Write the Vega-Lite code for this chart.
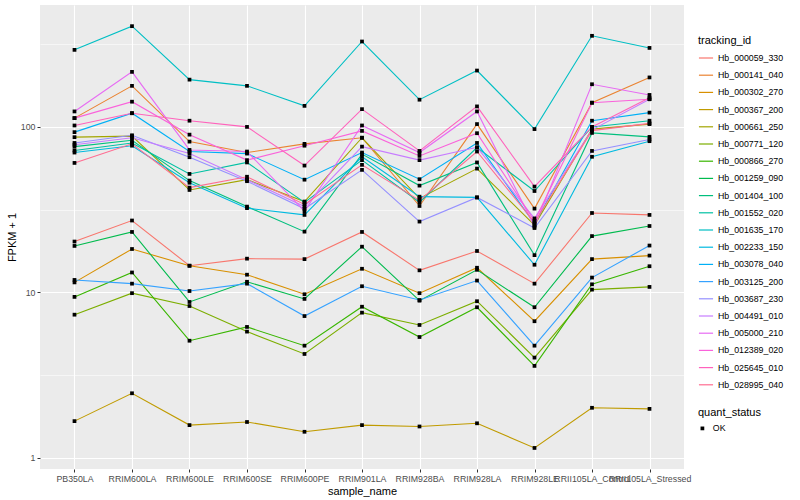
{
  "$schema": "https://vega.github.io/schema/vega-lite/v6.json",
  "autosize": {"type": "none"},
  "padding": {"left": 40, "top": 5, "right": 116, "bottom": 31},
  "width": 644,
  "height": 464,
  "config": {
    "font": "Liberation Sans",
    "view": {"fill": "#EBEBEB", "stroke": null},
    "axis": {"labelFont": "Liberation Sans", "titleFont": "Liberation Sans", "labelColor": "#4D4D4D", "labelFontSize": 8.8, "titleFontSize": 11, "titleFontWeight": "normal", "titleColor": "#000000", "tickColor": "#333333", "tickSize": 3, "tickWidth": 1, "domain": false, "gridColor": "#FFFFFF", "gridWidth": 1.1, "labelPadding": 2},
    "legend": {"titleFont": "Liberation Sans", "labelFont": "Liberation Sans", "titleFontSize": 11, "titleFontWeight": "normal", "titleColor": "#000000", "labelFontSize": 8.8, "labelColor": "#000000"}
  },
  "data": {"values": [
    {"tracking_id":"Hb_000059_330","sample_name":"PB350LA","fpkm":20.3,"quant_status":"OK"},
    {"tracking_id":"Hb_000059_330","sample_name":"RRIM600LA","fpkm":27.2,"quant_status":"OK"},
    {"tracking_id":"Hb_000059_330","sample_name":"RRIM600LE","fpkm":14.5,"quant_status":"OK"},
    {"tracking_id":"Hb_000059_330","sample_name":"RRIM600SE","fpkm":16.0,"quant_status":"OK"},
    {"tracking_id":"Hb_000059_330","sample_name":"RRIM600PE","fpkm":15.9,"quant_status":"OK"},
    {"tracking_id":"Hb_000059_330","sample_name":"RRIM901LA","fpkm":23.2,"quant_status":"OK"},
    {"tracking_id":"Hb_000059_330","sample_name":"RRIM928BA","fpkm":13.6,"quant_status":"OK"},
    {"tracking_id":"Hb_000059_330","sample_name":"RRIM928LA","fpkm":17.8,"quant_status":"OK"},
    {"tracking_id":"Hb_000059_330","sample_name":"RRIM928LE","fpkm":11.3,"quant_status":"OK"},
    {"tracking_id":"Hb_000059_330","sample_name":"RRII105LA_Control","fpkm":30.2,"quant_status":"OK"},
    {"tracking_id":"Hb_000059_330","sample_name":"RRII105LA_Stressed","fpkm":29.4,"quant_status":"OK"},

    {"tracking_id":"Hb_000141_040","sample_name":"PB350LA","fpkm":113,"quant_status":"OK"},
    {"tracking_id":"Hb_000141_040","sample_name":"RRIM600LA","fpkm":177,"quant_status":"OK"},
    {"tracking_id":"Hb_000141_040","sample_name":"RRIM600LE","fpkm":81.5,"quant_status":"OK"},
    {"tracking_id":"Hb_000141_040","sample_name":"RRIM600SE","fpkm":70,"quant_status":"OK"},
    {"tracking_id":"Hb_000141_040","sample_name":"RRIM600PE","fpkm":79,"quant_status":"OK"},
    {"tracking_id":"Hb_000141_040","sample_name":"RRIM901LA","fpkm":86,"quant_status":"OK"},
    {"tracking_id":"Hb_000141_040","sample_name":"RRIM928BA","fpkm":33.3,"quant_status":"OK"},
    {"tracking_id":"Hb_000141_040","sample_name":"RRIM928LA","fpkm":104,"quant_status":"OK"},
    {"tracking_id":"Hb_000141_040","sample_name":"RRIM928LE","fpkm":32.1,"quant_status":"OK"},
    {"tracking_id":"Hb_000141_040","sample_name":"RRII105LA_Control","fpkm":140,"quant_status":"OK"},
    {"tracking_id":"Hb_000141_040","sample_name":"RRII105LA_Stressed","fpkm":199,"quant_status":"OK"},

    {"tracking_id":"Hb_000302_270","sample_name":"PB350LA","fpkm":11.5,"quant_status":"OK"},
    {"tracking_id":"Hb_000302_270","sample_name":"RRIM600LA","fpkm":18.3,"quant_status":"OK"},
    {"tracking_id":"Hb_000302_270","sample_name":"RRIM600LE","fpkm":14.5,"quant_status":"OK"},
    {"tracking_id":"Hb_000302_270","sample_name":"RRIM600SE","fpkm":12.8,"quant_status":"OK"},
    {"tracking_id":"Hb_000302_270","sample_name":"RRIM600PE","fpkm":9.75,"quant_status":"OK"},
    {"tracking_id":"Hb_000302_270","sample_name":"RRIM901LA","fpkm":13.9,"quant_status":"OK"},
    {"tracking_id":"Hb_000302_270","sample_name":"RRIM928BA","fpkm":9.9,"quant_status":"OK"},
    {"tracking_id":"Hb_000302_270","sample_name":"RRIM928LA","fpkm":14.1,"quant_status":"OK"},
    {"tracking_id":"Hb_000302_270","sample_name":"RRIM928LE","fpkm":6.7,"quant_status":"OK"},
    {"tracking_id":"Hb_000302_270","sample_name":"RRII105LA_Control","fpkm":15.9,"quant_status":"OK"},
    {"tracking_id":"Hb_000302_270","sample_name":"RRII105LA_Stressed","fpkm":16.7,"quant_status":"OK"},

    {"tracking_id":"Hb_000367_200","sample_name":"PB350LA","fpkm":1.67,"quant_status":"OK"},
    {"tracking_id":"Hb_000367_200","sample_name":"RRIM600LA","fpkm":2.46,"quant_status":"OK"},
    {"tracking_id":"Hb_000367_200","sample_name":"RRIM600LE","fpkm":1.58,"quant_status":"OK"},
    {"tracking_id":"Hb_000367_200","sample_name":"RRIM600SE","fpkm":1.65,"quant_status":"OK"},
    {"tracking_id":"Hb_000367_200","sample_name":"RRIM600PE","fpkm":1.44,"quant_status":"OK"},
    {"tracking_id":"Hb_000367_200","sample_name":"RRIM901LA","fpkm":1.58,"quant_status":"OK"},
    {"tracking_id":"Hb_000367_200","sample_name":"RRIM928BA","fpkm":1.55,"quant_status":"OK"},
    {"tracking_id":"Hb_000367_200","sample_name":"RRIM928LA","fpkm":1.62,"quant_status":"OK"},
    {"tracking_id":"Hb_000367_200","sample_name":"RRIM928LE","fpkm":1.15,"quant_status":"OK"},
    {"tracking_id":"Hb_000367_200","sample_name":"RRII105LA_Control","fpkm":2.01,"quant_status":"OK"},
    {"tracking_id":"Hb_000367_200","sample_name":"RRII105LA_Stressed","fpkm":1.98,"quant_status":"OK"},

    {"tracking_id":"Hb_000661_250","sample_name":"PB350LA","fpkm":86.7,"quant_status":"OK"},
    {"tracking_id":"Hb_000661_250","sample_name":"RRIM600LA","fpkm":88,"quant_status":"OK"},
    {"tracking_id":"Hb_000661_250","sample_name":"RRIM600LE","fpkm":41.6,"quant_status":"OK"},
    {"tracking_id":"Hb_000661_250","sample_name":"RRIM600SE","fpkm":48,"quant_status":"OK"},
    {"tracking_id":"Hb_000661_250","sample_name":"RRIM600PE","fpkm":35.4,"quant_status":"OK"},
    {"tracking_id":"Hb_000661_250","sample_name":"RRIM901LA","fpkm":86,"quant_status":"OK"},
    {"tracking_id":"Hb_000661_250","sample_name":"RRIM928BA","fpkm":37,"quant_status":"OK"},
    {"tracking_id":"Hb_000661_250","sample_name":"RRIM928LA","fpkm":56,"quant_status":"OK"},
    {"tracking_id":"Hb_000661_250","sample_name":"RRIM928LE","fpkm":25.5,"quant_status":"OK"},
    {"tracking_id":"Hb_000661_250","sample_name":"RRII105LA_Control","fpkm":97,"quant_status":"OK"},
    {"tracking_id":"Hb_000661_250","sample_name":"RRII105LA_Stressed","fpkm":104,"quant_status":"OK"},

    {"tracking_id":"Hb_000771_120","sample_name":"PB350LA","fpkm":7.34,"quant_status":"OK"},
    {"tracking_id":"Hb_000771_120","sample_name":"RRIM600LA","fpkm":9.9,"quant_status":"OK"},
    {"tracking_id":"Hb_000771_120","sample_name":"RRIM600LE","fpkm":8.28,"quant_status":"OK"},
    {"tracking_id":"Hb_000771_120","sample_name":"RRIM600SE","fpkm":5.8,"quant_status":"OK"},
    {"tracking_id":"Hb_000771_120","sample_name":"RRIM600PE","fpkm":4.25,"quant_status":"OK"},
    {"tracking_id":"Hb_000771_120","sample_name":"RRIM901LA","fpkm":7.55,"quant_status":"OK"},
    {"tracking_id":"Hb_000771_120","sample_name":"RRIM928BA","fpkm":6.36,"quant_status":"OK"},
    {"tracking_id":"Hb_000771_120","sample_name":"RRIM928LA","fpkm":8.85,"quant_status":"OK"},
    {"tracking_id":"Hb_000771_120","sample_name":"RRIM928LE","fpkm":4.04,"quant_status":"OK"},
    {"tracking_id":"Hb_000771_120","sample_name":"RRII105LA_Control","fpkm":10.4,"quant_status":"OK"},
    {"tracking_id":"Hb_000771_120","sample_name":"RRII105LA_Stressed","fpkm":10.8,"quant_status":"OK"},

    {"tracking_id":"Hb_000866_270","sample_name":"PB350LA","fpkm":9.4,"quant_status":"OK"},
    {"tracking_id":"Hb_000866_270","sample_name":"RRIM600LA","fpkm":13.2,"quant_status":"OK"},
    {"tracking_id":"Hb_000866_270","sample_name":"RRIM600LE","fpkm":5.11,"quant_status":"OK"},
    {"tracking_id":"Hb_000866_270","sample_name":"RRIM600SE","fpkm":6.19,"quant_status":"OK"},
    {"tracking_id":"Hb_000866_270","sample_name":"RRIM600PE","fpkm":4.77,"quant_status":"OK"},
    {"tracking_id":"Hb_000866_270","sample_name":"RRIM901LA","fpkm":8.2,"quant_status":"OK"},
    {"tracking_id":"Hb_000866_270","sample_name":"RRIM928BA","fpkm":5.38,"quant_status":"OK"},
    {"tracking_id":"Hb_000866_270","sample_name":"RRIM928LA","fpkm":8.14,"quant_status":"OK"},
    {"tracking_id":"Hb_000866_270","sample_name":"RRIM928LE","fpkm":3.6,"quant_status":"OK"},
    {"tracking_id":"Hb_000866_270","sample_name":"RRII105LA_Control","fpkm":11.2,"quant_status":"OK"},
    {"tracking_id":"Hb_000866_270","sample_name":"RRII105LA_Stressed","fpkm":14.4,"quant_status":"OK"},

    {"tracking_id":"Hb_001259_090","sample_name":"PB350LA","fpkm":19.1,"quant_status":"OK"},
    {"tracking_id":"Hb_001259_090","sample_name":"RRIM600LA","fpkm":23.2,"quant_status":"OK"},
    {"tracking_id":"Hb_001259_090","sample_name":"RRIM600LE","fpkm":8.76,"quant_status":"OK"},
    {"tracking_id":"Hb_001259_090","sample_name":"RRIM600SE","fpkm":11.6,"quant_status":"OK"},
    {"tracking_id":"Hb_001259_090","sample_name":"RRIM600PE","fpkm":9.14,"quant_status":"OK"},
    {"tracking_id":"Hb_001259_090","sample_name":"RRIM901LA","fpkm":18.9,"quant_status":"OK"},
    {"tracking_id":"Hb_001259_090","sample_name":"RRIM928BA","fpkm":8.92,"quant_status":"OK"},
    {"tracking_id":"Hb_001259_090","sample_name":"RRIM928LA","fpkm":13.7,"quant_status":"OK"},
    {"tracking_id":"Hb_001259_090","sample_name":"RRIM928LE","fpkm":8.14,"quant_status":"OK"},
    {"tracking_id":"Hb_001259_090","sample_name":"RRII105LA_Control","fpkm":21.9,"quant_status":"OK"},
    {"tracking_id":"Hb_001259_090","sample_name":"RRII105LA_Stressed","fpkm":25.2,"quant_status":"OK"},

    {"tracking_id":"Hb_001404_100","sample_name":"PB350LA","fpkm":76,"quant_status":"OK"},
    {"tracking_id":"Hb_001404_100","sample_name":"RRIM600LA","fpkm":83,"quant_status":"OK"},
    {"tracking_id":"Hb_001404_100","sample_name":"RRIM600LE","fpkm":47.4,"quant_status":"OK"},
    {"tracking_id":"Hb_001404_100","sample_name":"RRIM600SE","fpkm":33,"quant_status":"OK"},
    {"tracking_id":"Hb_001404_100","sample_name":"RRIM600PE","fpkm":23.3,"quant_status":"OK"},
    {"tracking_id":"Hb_001404_100","sample_name":"RRIM901LA","fpkm":68.5,"quant_status":"OK"},
    {"tracking_id":"Hb_001404_100","sample_name":"RRIM928BA","fpkm":44.2,"quant_status":"OK"},
    {"tracking_id":"Hb_001404_100","sample_name":"RRIM928LA","fpkm":61,"quant_status":"OK"},
    {"tracking_id":"Hb_001404_100","sample_name":"RRIM928LE","fpkm":16.8,"quant_status":"OK"},
    {"tracking_id":"Hb_001404_100","sample_name":"RRII105LA_Control","fpkm":92,"quant_status":"OK"},
    {"tracking_id":"Hb_001404_100","sample_name":"RRII105LA_Stressed","fpkm":87,"quant_status":"OK"},

    {"tracking_id":"Hb_001552_020","sample_name":"PB350LA","fpkm":72,"quant_status":"OK"},
    {"tracking_id":"Hb_001552_020","sample_name":"RRIM600LA","fpkm":80,"quant_status":"OK"},
    {"tracking_id":"Hb_001552_020","sample_name":"RRIM600LE","fpkm":52,"quant_status":"OK"},
    {"tracking_id":"Hb_001552_020","sample_name":"RRIM600SE","fpkm":61,"quant_status":"OK"},
    {"tracking_id":"Hb_001552_020","sample_name":"RRIM600PE","fpkm":35,"quant_status":"OK"},
    {"tracking_id":"Hb_001552_020","sample_name":"RRIM901LA","fpkm":63,"quant_status":"OK"},
    {"tracking_id":"Hb_001552_020","sample_name":"RRIM928BA","fpkm":35.1,"quant_status":"OK"},
    {"tracking_id":"Hb_001552_020","sample_name":"RRIM928LA","fpkm":75,"quant_status":"OK"},
    {"tracking_id":"Hb_001552_020","sample_name":"RRIM928LE","fpkm":41,"quant_status":"OK"},
    {"tracking_id":"Hb_001552_020","sample_name":"RRII105LA_Control","fpkm":100,"quant_status":"OK"},
    {"tracking_id":"Hb_001552_020","sample_name":"RRII105LA_Stressed","fpkm":109,"quant_status":"OK"},

    {"tracking_id":"Hb_001635_170","sample_name":"PB350LA","fpkm":292,"quant_status":"OK"},
    {"tracking_id":"Hb_001635_170","sample_name":"RRIM600LA","fpkm":406,"quant_status":"OK"},
    {"tracking_id":"Hb_001635_170","sample_name":"RRIM600LE","fpkm":193,"quant_status":"OK"},
    {"tracking_id":"Hb_001635_170","sample_name":"RRIM600SE","fpkm":177,"quant_status":"OK"},
    {"tracking_id":"Hb_001635_170","sample_name":"RRIM600PE","fpkm":134,"quant_status":"OK"},
    {"tracking_id":"Hb_001635_170","sample_name":"RRIM901LA","fpkm":328,"quant_status":"OK"},
    {"tracking_id":"Hb_001635_170","sample_name":"RRIM928BA","fpkm":146,"quant_status":"OK"},
    {"tracking_id":"Hb_001635_170","sample_name":"RRIM928LA","fpkm":219,"quant_status":"OK"},
    {"tracking_id":"Hb_001635_170","sample_name":"RRIM928LE","fpkm":97,"quant_status":"OK"},
    {"tracking_id":"Hb_001635_170","sample_name":"RRII105LA_Control","fpkm":355,"quant_status":"OK"},
    {"tracking_id":"Hb_001635_170","sample_name":"RRII105LA_Stressed","fpkm":300,"quant_status":"OK"},

    {"tracking_id":"Hb_002233_150","sample_name":"PB350LA","fpkm":70,"quant_status":"OK"},
    {"tracking_id":"Hb_002233_150","sample_name":"RRIM600LA","fpkm":77,"quant_status":"OK"},
    {"tracking_id":"Hb_002233_150","sample_name":"RRIM600LE","fpkm":46,"quant_status":"OK"},
    {"tracking_id":"Hb_002233_150","sample_name":"RRIM600SE","fpkm":32.3,"quant_status":"OK"},
    {"tracking_id":"Hb_002233_150","sample_name":"RRIM600PE","fpkm":29.4,"quant_status":"OK"},
    {"tracking_id":"Hb_002233_150","sample_name":"RRIM901LA","fpkm":66,"quant_status":"OK"},
    {"tracking_id":"Hb_002233_150","sample_name":"RRIM928BA","fpkm":37.9,"quant_status":"OK"},
    {"tracking_id":"Hb_002233_150","sample_name":"RRIM928LA","fpkm":37.5,"quant_status":"OK"},
    {"tracking_id":"Hb_002233_150","sample_name":"RRIM928LE","fpkm":14.7,"quant_status":"OK"},
    {"tracking_id":"Hb_002233_150","sample_name":"RRII105LA_Control","fpkm":66,"quant_status":"OK"},
    {"tracking_id":"Hb_002233_150","sample_name":"RRII105LA_Stressed","fpkm":82,"quant_status":"OK"},

    {"tracking_id":"Hb_003078_040","sample_name":"PB350LA","fpkm":93,"quant_status":"OK"},
    {"tracking_id":"Hb_003078_040","sample_name":"RRIM600LA","fpkm":121,"quant_status":"OK"},
    {"tracking_id":"Hb_003078_040","sample_name":"RRIM600LE","fpkm":71,"quant_status":"OK"},
    {"tracking_id":"Hb_003078_040","sample_name":"RRIM600SE","fpkm":69,"quant_status":"OK"},
    {"tracking_id":"Hb_003078_040","sample_name":"RRIM600PE","fpkm":48,"quant_status":"OK"},
    {"tracking_id":"Hb_003078_040","sample_name":"RRIM901LA","fpkm":70,"quant_status":"OK"},
    {"tracking_id":"Hb_003078_040","sample_name":"RRIM928BA","fpkm":48.3,"quant_status":"OK"},
    {"tracking_id":"Hb_003078_040","sample_name":"RRIM928LA","fpkm":80,"quant_status":"OK"},
    {"tracking_id":"Hb_003078_040","sample_name":"RRIM928LE","fpkm":26,"quant_status":"OK"},
    {"tracking_id":"Hb_003078_040","sample_name":"RRII105LA_Control","fpkm":109,"quant_status":"OK"},
    {"tracking_id":"Hb_003078_040","sample_name":"RRII105LA_Stressed","fpkm":122,"quant_status":"OK"},

    {"tracking_id":"Hb_003125_200","sample_name":"PB350LA","fpkm":11.9,"quant_status":"OK"},
    {"tracking_id":"Hb_003125_200","sample_name":"RRIM600LA","fpkm":11.3,"quant_status":"OK"},
    {"tracking_id":"Hb_003125_200","sample_name":"RRIM600LE","fpkm":10.2,"quant_status":"OK"},
    {"tracking_id":"Hb_003125_200","sample_name":"RRIM600SE","fpkm":11.3,"quant_status":"OK"},
    {"tracking_id":"Hb_003125_200","sample_name":"RRIM600PE","fpkm":7.2,"quant_status":"OK"},
    {"tracking_id":"Hb_003125_200","sample_name":"RRIM901LA","fpkm":10.9,"quant_status":"OK"},
    {"tracking_id":"Hb_003125_200","sample_name":"RRIM928BA","fpkm":9.0,"quant_status":"OK"},
    {"tracking_id":"Hb_003125_200","sample_name":"RRIM928LA","fpkm":11.8,"quant_status":"OK"},
    {"tracking_id":"Hb_003125_200","sample_name":"RRIM928LE","fpkm":4.77,"quant_status":"OK"},
    {"tracking_id":"Hb_003125_200","sample_name":"RRII105LA_Control","fpkm":12.3,"quant_status":"OK"},
    {"tracking_id":"Hb_003125_200","sample_name":"RRII105LA_Stressed","fpkm":19.2,"quant_status":"OK"},

    {"tracking_id":"Hb_003687_230","sample_name":"PB350LA","fpkm":80,"quant_status":"OK"},
    {"tracking_id":"Hb_003687_230","sample_name":"RRIM600LA","fpkm":89,"quant_status":"OK"},
    {"tracking_id":"Hb_003687_230","sample_name":"RRIM600LE","fpkm":65.6,"quant_status":"OK"},
    {"tracking_id":"Hb_003687_230","sample_name":"RRIM600SE","fpkm":47,"quant_status":"OK"},
    {"tracking_id":"Hb_003687_230","sample_name":"RRIM600PE","fpkm":32,"quant_status":"OK"},
    {"tracking_id":"Hb_003687_230","sample_name":"RRIM901LA","fpkm":55,"quant_status":"OK"},
    {"tracking_id":"Hb_003687_230","sample_name":"RRIM928BA","fpkm":26.8,"quant_status":"OK"},
    {"tracking_id":"Hb_003687_230","sample_name":"RRIM928LA","fpkm":37.5,"quant_status":"OK"},
    {"tracking_id":"Hb_003687_230","sample_name":"RRIM928LE","fpkm":24.5,"quant_status":"OK"},
    {"tracking_id":"Hb_003687_230","sample_name":"RRII105LA_Control","fpkm":71.6,"quant_status":"OK"},
    {"tracking_id":"Hb_003687_230","sample_name":"RRII105LA_Stressed","fpkm":84,"quant_status":"OK"},

    {"tracking_id":"Hb_004491_010","sample_name":"PB350LA","fpkm":78,"quant_status":"OK"},
    {"tracking_id":"Hb_004491_010","sample_name":"RRIM600LA","fpkm":86,"quant_status":"OK"},
    {"tracking_id":"Hb_004491_010","sample_name":"RRIM600LE","fpkm":69,"quant_status":"OK"},
    {"tracking_id":"Hb_004491_010","sample_name":"RRIM600SE","fpkm":48,"quant_status":"OK"},
    {"tracking_id":"Hb_004491_010","sample_name":"RRIM600PE","fpkm":33,"quant_status":"OK"},
    {"tracking_id":"Hb_004491_010","sample_name":"RRIM901LA","fpkm":76,"quant_status":"OK"},
    {"tracking_id":"Hb_004491_010","sample_name":"RRIM928BA","fpkm":63,"quant_status":"OK"},
    {"tracking_id":"Hb_004491_010","sample_name":"RRIM928LA","fpkm":75.3,"quant_status":"OK"},
    {"tracking_id":"Hb_004491_010","sample_name":"RRIM928LE","fpkm":28,"quant_status":"OK"},
    {"tracking_id":"Hb_004491_010","sample_name":"RRII105LA_Control","fpkm":96,"quant_status":"OK"},
    {"tracking_id":"Hb_004491_010","sample_name":"RRII105LA_Stressed","fpkm":147,"quant_status":"OK"},

    {"tracking_id":"Hb_005000_210","sample_name":"PB350LA","fpkm":124,"quant_status":"OK"},
    {"tracking_id":"Hb_005000_210","sample_name":"RRIM600LA","fpkm":215,"quant_status":"OK"},
    {"tracking_id":"Hb_005000_210","sample_name":"RRIM600LE","fpkm":72.6,"quant_status":"OK"},
    {"tracking_id":"Hb_005000_210","sample_name":"RRIM600SE","fpkm":71,"quant_status":"OK"},
    {"tracking_id":"Hb_005000_210","sample_name":"RRIM600PE","fpkm":31,"quant_status":"OK"},
    {"tracking_id":"Hb_005000_210","sample_name":"RRIM901LA","fpkm":102,"quant_status":"OK"},
    {"tracking_id":"Hb_005000_210","sample_name":"RRIM928BA","fpkm":70,"quant_status":"OK"},
    {"tracking_id":"Hb_005000_210","sample_name":"RRIM928LA","fpkm":124,"quant_status":"OK"},
    {"tracking_id":"Hb_005000_210","sample_name":"RRIM928LE","fpkm":25,"quant_status":"OK"},
    {"tracking_id":"Hb_005000_210","sample_name":"RRII105LA_Control","fpkm":181,"quant_status":"OK"},
    {"tracking_id":"Hb_005000_210","sample_name":"RRII105LA_Stressed","fpkm":156,"quant_status":"OK"},

    {"tracking_id":"Hb_012389_020","sample_name":"PB350LA","fpkm":113,"quant_status":"OK"},
    {"tracking_id":"Hb_012389_020","sample_name":"RRIM600LA","fpkm":142,"quant_status":"OK"},
    {"tracking_id":"Hb_012389_020","sample_name":"RRIM600LE","fpkm":89.8,"quant_status":"OK"},
    {"tracking_id":"Hb_012389_020","sample_name":"RRIM600SE","fpkm":63,"quant_status":"OK"},
    {"tracking_id":"Hb_012389_020","sample_name":"RRIM600PE","fpkm":77,"quant_status":"OK"},
    {"tracking_id":"Hb_012389_020","sample_name":"RRIM901LA","fpkm":94.6,"quant_status":"OK"},
    {"tracking_id":"Hb_012389_020","sample_name":"RRIM928BA","fpkm":66.8,"quant_status":"OK"},
    {"tracking_id":"Hb_012389_020","sample_name":"RRIM928LA","fpkm":91.6,"quant_status":"OK"},
    {"tracking_id":"Hb_012389_020","sample_name":"RRIM928LE","fpkm":27,"quant_status":"OK"},
    {"tracking_id":"Hb_012389_020","sample_name":"RRII105LA_Control","fpkm":140,"quant_status":"OK"},
    {"tracking_id":"Hb_012389_020","sample_name":"RRII105LA_Stressed","fpkm":147,"quant_status":"OK"},

    {"tracking_id":"Hb_025645_010","sample_name":"PB350LA","fpkm":102,"quant_status":"OK"},
    {"tracking_id":"Hb_025645_010","sample_name":"RRIM600LA","fpkm":121,"quant_status":"OK"},
    {"tracking_id":"Hb_025645_010","sample_name":"RRIM600LE","fpkm":109,"quant_status":"OK"},
    {"tracking_id":"Hb_025645_010","sample_name":"RRIM600SE","fpkm":100,"quant_status":"OK"},
    {"tracking_id":"Hb_025645_010","sample_name":"RRIM600PE","fpkm":58.4,"quant_status":"OK"},
    {"tracking_id":"Hb_025645_010","sample_name":"RRIM901LA","fpkm":128,"quant_status":"OK"},
    {"tracking_id":"Hb_025645_010","sample_name":"RRIM928BA","fpkm":71.6,"quant_status":"OK"},
    {"tracking_id":"Hb_025645_010","sample_name":"RRIM928LA","fpkm":133,"quant_status":"OK"},
    {"tracking_id":"Hb_025645_010","sample_name":"RRIM928LE","fpkm":43.6,"quant_status":"OK"},
    {"tracking_id":"Hb_025645_010","sample_name":"RRII105LA_Control","fpkm":100,"quant_status":"OK"},
    {"tracking_id":"Hb_025645_010","sample_name":"RRII105LA_Stressed","fpkm":150,"quant_status":"OK"},

    {"tracking_id":"Hb_028995_040","sample_name":"PB350LA","fpkm":60.6,"quant_status":"OK"},
    {"tracking_id":"Hb_028995_040","sample_name":"RRIM600LA","fpkm":79,"quant_status":"OK"},
    {"tracking_id":"Hb_028995_040","sample_name":"RRIM600LE","fpkm":43,"quant_status":"OK"},
    {"tracking_id":"Hb_028995_040","sample_name":"RRIM600SE","fpkm":50,"quant_status":"OK"},
    {"tracking_id":"Hb_028995_040","sample_name":"RRIM600PE","fpkm":34,"quant_status":"OK"},
    {"tracking_id":"Hb_028995_040","sample_name":"RRIM901LA","fpkm":59,"quant_status":"OK"},
    {"tracking_id":"Hb_028995_040","sample_name":"RRIM928BA","fpkm":36,"quant_status":"OK"},
    {"tracking_id":"Hb_028995_040","sample_name":"RRIM928LA","fpkm":71,"quant_status":"OK"},
    {"tracking_id":"Hb_028995_040","sample_name":"RRIM928LE","fpkm":26.5,"quant_status":"OK"},
    {"tracking_id":"Hb_028995_040","sample_name":"RRII105LA_Control","fpkm":95,"quant_status":"OK"},
    {"tracking_id":"Hb_028995_040","sample_name":"RRII105LA_Stressed","fpkm":105,"quant_status":"OK"}
  ]},
  "encoding": {
    "x": {
      "field": "sample_name", "type": "nominal",
      "sort": ["PB350LA","RRIM600LA","RRIM600LE","RRIM600SE","RRIM600PE","RRIM901LA","RRIM928BA","RRIM928LA","RRIM928LE","RRII105LA_Control","RRII105LA_Stressed"],
      "scale": {"type": "point", "padding": 0.6},
      "axis": {"title": "sample_name", "labelAngle": 0, "labelOverlap": false, "grid": true, "titlePadding": 3, "labelBound": false}
    },
    "y": {
      "field": "fpkm", "type": "quantitative",
      "scale": {"type": "log", "domain": [0.858, 545], "nice": false, "zero": false}
    }
  },
  "layer": [
    {
      "mark": {"type": "line", "strokeWidth": 1.1},
      "encoding": {
        "y": {"field": "fpkm", "type": "quantitative", "axis": {"title": "FPKM + 1", "values": [1, 10, 100], "format": "d", "grid": true, "titlePadding": 3}},
        "color": {
          "field": "tracking_id", "type": "nominal",
          "scale": {
            "domain": ["Hb_000059_330","Hb_000141_040","Hb_000302_270","Hb_000367_200","Hb_000661_250","Hb_000771_120","Hb_000866_270","Hb_001259_090","Hb_001404_100","Hb_001552_020","Hb_001635_170","Hb_002233_150","Hb_003078_040","Hb_003125_200","Hb_003687_230","Hb_004491_010","Hb_005000_210","Hb_012389_020","Hb_025645_010","Hb_028995_040"],
            "range": ["#F8766D","#EA8331","#D89000","#C09B00","#A3A500","#7CAE00","#39B600","#00BB4E","#00BF7D","#00C1A3","#00BFC4","#00BAE0","#00B0F6","#35A2FF","#9590FF","#C77CFF","#E76BF3","#FA62DB","#FF62BC","#FF6C91"]
          },
          "legend": {"title": "tracking_id", "orient": "none", "legendX": 658, "legendY": 30, "symbolType": "stroke", "symbolSize": 200, "symbolStrokeWidth": 1.2, "rowPadding": 4.2, "titlePadding": 4, "labelOffset": 4}
        }
      }
    },
    {
      "mark": {"type": "point", "shape": "square", "filled": true, "color": "#000000", "size": 14, "opacity": 1},
      "encoding": {
        "y": {"field": "fpkm", "type": "quantitative", "axis": {"orient": "right", "values": [3.1623, 31.623, 316.23], "grid": true, "gridWidth": 0.55, "labels": false, "ticks": false, "domain": false, "title": null}},
        "shape": {
          "field": "quant_status", "type": "nominal",
          "scale": {"range": ["square"]},
          "legend": {"title": "quant_status", "orient": "none", "legendX": 658, "legendY": 402, "symbolSize": 14, "symbolFillColor": "#000000", "titlePadding": 6, "labelOffset": 6}
        }
      }
    }
  ],
  "resolve": {"axis": {"y": "independent"}}
}
